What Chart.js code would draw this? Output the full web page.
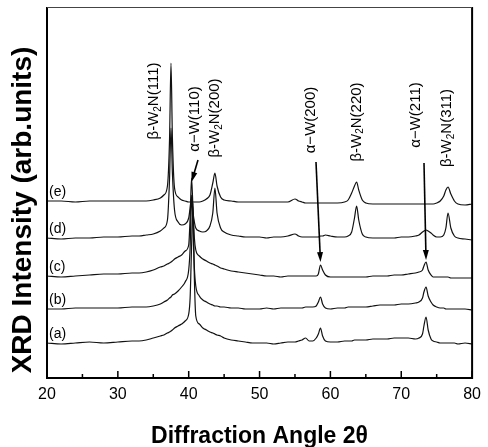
<!DOCTYPE html>
<html>
<head>
<meta charset="utf-8">
<script src="https://cdn.jsdelivr.net/npm/chart.js@4.4.1/dist/chart.umd.min.js"></script>
<style>
  html, body { margin: 0; padding: 0; background: #fff; }
  #xrd { display: block; }
</style>
</head>
<body>
<canvas id="xrd" width="488" height="447"></canvas>
<script>
// 2theta sampling (deg), shared by all five patterns
const twoTheta = [
  20, 22, 24, 26, 28, 30, 32, 33, 34, 35,
  36, 36.5, 37, 37.3, 37.5, 37.7, 38, 38.5, 39, 39.5,
  40, 40.2, 40.4, 40.6, 40.8, 41, 41.5, 42, 42.5, 43,
  43.4, 43.7, 44, 44.5, 45, 46, 47, 48, 49, 50,
  51, 52, 53, 54, 55, 55.5, 56, 56.5, 57, 57.5,
  58, 58.3, 58.6, 58.9, 59.3, 60, 61, 62, 62.5, 63,
  63.4, 63.7, 64, 64.5, 65, 66, 67, 68, 69, 70,
  71, 72, 72.5, 73, 73.2, 73.5, 73.8, 74.2, 74.5, 75,
  75.5, 76, 76.3, 76.6, 77, 77.5, 78, 79, 80
];

// intensities (arb. units, curves already stacked)
const patternA = [
  35, 34, 35, 36, 35, 36, 37, 37, 38, 40,
  42, 43, 45, 46, 47, 48, 50, 52, 54, 57,
  64, 80, 130, 175, 100, 62, 54, 50, 48, 46,
  45, 44, 43, 42, 40, 38, 37, 36, 35, 35,
  35, 34, 35, 36, 36, 37, 38, 40, 37, 37,
  40, 44, 50, 42, 37, 36, 36, 37, 37, 37,
  38, 38, 38, 38, 38, 39, 39, 39, 40, 40,
  40, 39, 40, 44, 52, 61, 48, 39, 37, 36,
  35, 35, 35, 35, 35, 35, 34, 35, 34
];
const patternB = [
  69, 69, 70, 70, 70, 70, 71, 71, 71, 72,
  74, 76, 78, 80, 81, 83, 84, 87, 91, 96,
  108, 130, 183, 150, 110, 92, 82, 78, 76, 74,
  73, 72, 72, 71, 71, 70, 70, 69, 69, 69,
  70, 69, 70, 70, 70, 70, 70, 71, 71, 71,
  72, 76, 81, 74, 70, 69, 70, 70, 71, 71,
  71, 71, 71, 71, 71, 72, 73, 73, 73, 74,
  74, 75, 76, 80, 86, 91, 82, 76, 73, 71,
  70, 70, 69, 69, 69, 69, 69, 69, 68
];
const patternC = [
  102, 101, 102, 103, 104, 104, 105, 105, 106, 108,
  111, 112, 114, 115, 116, 117, 119, 121, 123, 127,
  133, 160, 200, 170, 140, 128, 122, 119, 117, 115,
  114, 113, 112, 110, 109, 107, 106, 105, 104, 103,
  102, 102, 101, 102, 102, 102, 102, 102, 102, 102,
  102, 104, 113, 108, 103, 101, 101, 101, 101, 101,
  101, 101, 101, 101, 101, 102, 102, 102, 103, 103,
  104, 105, 106, 108, 112, 116, 108, 103, 101, 101,
  101, 101, 101, 101, 100, 100, 100, 100, 100
];
const patternD = [
  140, 139, 140, 140, 141, 141, 142, 142, 143, 144,
  147, 150, 158, 200, 250, 205, 168, 156, 153, 154,
  160, 170, 180, 166, 156, 150, 147, 146, 147, 152,
  165, 190, 165, 150, 146, 143, 142, 141, 141, 141,
  140, 141, 141, 142, 144, 142, 141, 141, 141, 141,
  141, 141, 142, 142, 143, 142, 141, 141, 142, 146,
  160, 172, 158, 144, 141, 140, 140, 140, 140, 141,
  141, 142, 143, 146, 147, 148, 147, 145, 143, 141,
  141, 143, 150, 165, 150, 142, 140, 139, 138
];
const patternE = [
  177, 177, 176, 177, 177, 177, 177, 177, 177, 178,
  180, 183, 192, 240, 315, 240, 190, 181, 178, 177,
  176, 176, 177, 176, 176, 176, 176, 177, 179, 183,
  195, 205, 192, 181, 178, 177, 176, 176, 176, 176,
  176, 176, 176, 176, 179, 177, 176, 175, 175, 175,
  175, 175, 175, 175, 175, 175, 175, 176, 178, 185,
  192, 196, 188, 178, 175, 174, 174, 174, 174, 174,
  174, 174, 174, 174, 174, 174, 174, 174, 174, 175,
  177, 182, 188, 191, 184, 177, 174, 173, 174
];

const patterns = [patternA, patternB, patternC, patternD, patternE];
const sampleNames = ['(a)', '(b)', '(c)', '(d)', '(e)'];

// reflections: '_2' marks a subscript
const peakNames = ['β-W_2N(111)', 'α−W(110)', 'β-W_2N(200)', 'α−W(200)', 'β-W_2N(220)', 'α−W(211)', 'β-W_2N(311)'];
const peakAngles = [37.5, 40.4, 43.7, 58.6, 63.7, 73.5, 76.5];

const xTickValues = [20, 30, 40, 50, 60, 70, 80];
const xMinorTicks = [25, 35, 45, 55, 65, 75];

const FONT = "'Liberation Sans', Arial, sans-serif";

// label placement (pixels relative to the peak position)
const labelLayout = [
  {dx: -17, cy: 101}, {dx: 3, cy: 119}, {dx: 0, cy: 118},
  {dx: -10, cy: 120}, {dx: 0, cy: 122}, {dx: -10, cy: 115}, {dx: 0, cy: 128}
];
// arrows for the alpha-W reflections: start point and tip height
const arrowLayout = [
  {peak: 1, from: [198, 160], tipY: 182},
  {peak: 3, from: [316, 162], tipY: 262},
  {peak: 5, from: [424, 163], tipY: 260}
];

function drawRotatedLabel(ctx, text, cx, cy) {
  const parts = text.split('_');
  const segs = [{t: parts[0], sub: false}];
  if (parts[1]) {
    segs.push({t: parts[1][0], sub: true});
    segs.push({t: parts[1].slice(1), sub: false});
  }
  const big = '15px ' + FONT, small = '10px ' + FONT;
  let total = 0;
  segs.forEach(s => { ctx.font = s.sub ? small : big; s.w = ctx.measureText(s.t).width; total += s.w; });
  ctx.save();
  ctx.translate(cx, cy);
  ctx.rotate(-Math.PI / 2);
  ctx.textBaseline = 'middle';
  ctx.textAlign = 'left';
  let x = -total / 2;
  segs.forEach(s => {
    ctx.font = s.sub ? small : big;
    ctx.fillText(s.t, x, s.sub ? 4 : 0);
    x += s.w;
  });
  ctx.restore();
}

const decorations = {
  id: 'decorations',
  afterDatasetsDraw(chart) {
    const {ctx, chartArea: a, scales: {x, y}} = chart;
    ctx.save();
    ctx.fillStyle = '#000';
    ctx.strokeStyle = '#000';

    // frame
    ctx.lineWidth = 2;
    ctx.beginPath();
    ctx.moveTo(a.left, a.top); ctx.lineTo(a.left, a.bottom); ctx.lineTo(a.right, a.bottom); ctx.lineTo(a.right, a.top);
    ctx.stroke();
    ctx.lineWidth = 1;
    ctx.strokeStyle = '#444';
    ctx.beginPath(); ctx.moveTo(a.left, a.top + 0.5); ctx.lineTo(a.right, a.top + 0.5); ctx.stroke();

    // inward ticks
    ctx.strokeStyle = '#000';
    ctx.lineWidth = 1.5;
    ctx.beginPath();
    xTickValues.forEach(v => { const px = x.getPixelForValue(v); ctx.moveTo(px, a.bottom); ctx.lineTo(px, a.bottom - 7); });
    xMinorTicks.forEach(v => { const px = x.getPixelForValue(v); ctx.moveTo(px, a.bottom); ctx.lineTo(px, a.bottom - 4); });
    ctx.stroke();

    // sample labels
    ctx.font = '14px ' + FONT;
    ctx.textBaseline = 'middle';
    ctx.textAlign = 'left';
    sampleNames.forEach((s, i) => {
      ctx.fillText(s, a.left + 2, y.getPixelForValue(patterns[i][0]) - 9);
    });

    // reflection labels
    peakNames.forEach((t, i) => {
      const l = labelLayout[i];
      drawRotatedLabel(ctx, t, x.getPixelForValue(peakAngles[i]) + l.dx, l.cy);
    });

    // arrows
    ctx.lineWidth = 1.6;
    arrowLayout.forEach(ar => {
      const tx = x.getPixelForValue(peakAngles[ar.peak]), ty = ar.tipY;
      const [fx, fy] = ar.from;
      const ang = Math.atan2(ty - fy, tx - fx);
      ctx.beginPath(); ctx.moveTo(fx, fy); ctx.lineTo(tx - 8 * Math.cos(ang), ty - 8 * Math.sin(ang)); ctx.stroke();
      ctx.beginPath();
      ctx.moveTo(tx, ty);
      ctx.lineTo(tx - 10 * Math.cos(ang) + 3 * Math.sin(ang), ty - 10 * Math.sin(ang) - 3 * Math.cos(ang));
      ctx.lineTo(tx - 10 * Math.cos(ang) - 3 * Math.sin(ang), ty - 10 * Math.sin(ang) + 3 * Math.cos(ang));
      ctx.closePath(); ctx.fill();
    });

    // y axis title
    ctx.save();
    ctx.translate(23, 210);
    ctx.rotate(-Math.PI / 2);
    ctx.font = 'bold 28px ' + FONT;
    ctx.textAlign = 'center';
    ctx.textBaseline = 'middle';
    ctx.fillText('XRD Intensity (arb.units)', 0, 0);
    ctx.restore();

    ctx.restore();
  }
};

new Chart(document.getElementById('xrd'), {
  type: 'line',
  data: {
    datasets: patterns.map((p, i) => ({
      label: sampleNames[i],
      data: twoTheta.map((t, j) => ({x: t, y: p[j]})),
      borderColor: '#111',
      borderWidth: 1.2,
      pointRadius: 0,
      cubicInterpolationMode: 'monotone',
      fill: false
    }))
  },
  options: {
    responsive: false,
    animation: false,
    devicePixelRatio: 1,
    layout: {padding: {left: 47, right: 11, top: 7, bottom: 0}},
    plugins: {legend: {display: false}, tooltip: {enabled: false}},
    scales: {
      x: {
        type: 'linear', min: 20, max: 80,
        afterFit(s) { s.height = 69; },
        afterBuildTicks(s) { s.ticks = xTickValues.map(v => ({value: v})); },
        grid: {display: false, drawTicks: false},
        border: {display: false},
        ticks: {color: '#000', font: {family: FONT, size: 16}, padding: 7, maxRotation: 0, autoSkip: false},
        title: {display: true, text: 'Diffraction Angle 2θ', color: '#000',
                font: {family: FONT, size: 23, weight: 'bold', lineHeight: 0.9}, padding: 0}
      },
      y: {display: false, min: 0, max: 371}
    }
  },
  plugins: [decorations]
});
</script>
</body>
</html>
